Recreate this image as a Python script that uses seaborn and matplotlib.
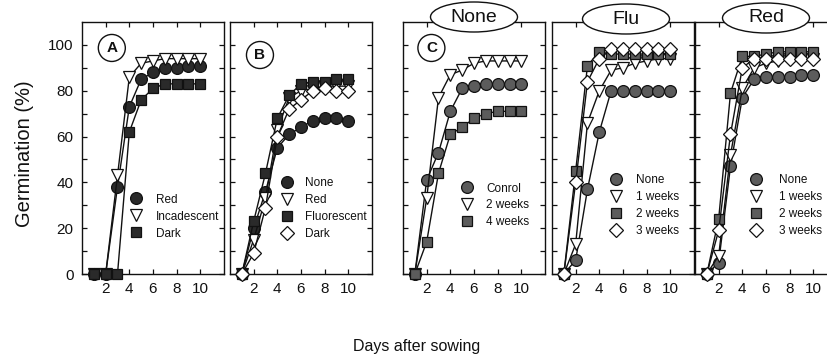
import matplotlib
matplotlib.use("Agg")
import matplotlib.pyplot as plt
from matplotlib.patches import Ellipse
from matplotlib.lines import Line2D
import seaborn as sns
import pandas as pd

sns.set_theme(style="white")
plt.rcParams['font.family'] = ['Liberation Sans', 'DejaVu Sans']

days = [1, 2, 3, 4, 5, 6, 7, 8, 9, 10]

# Panel A
a_labels = ["Red", "Incadescent", "Dark"]
a_red = [0, 0, 38, 73, 85, 88, 90, 90, 91, 91]
a_inc = [0, 0, 43, 86, 92, 93, 94, 94, 94, 94]
a_dark = [0, 0, 0, 62, 76, 81, 83, 83, 83, 83]

# Panel B
b_labels = ["None", "Red", "Fluorescent", "Dark"]
b_none = [0, 20, 36, 55, 61, 64, 67, 68, 68, 67]
b_red = [0, 15, 33, 63, 77, 80, 81, 82, 82, 82]
b_flu = [0, 23, 44, 68, 78, 83, 84, 84, 85, 85]
b_dark = [0, 9, 29, 60, 72, 76, 80, 81, 80, 80]

# Panel C (None)
c_labels = ["Conrol", "2 weeks", "4 weeks"]
c_ctrl = [0, 41, 53, 71, 81, 82, 83, 83, 83, 83]
c_w2 = [0, 33, 77, 87, 89, 92, 93, 93, 93, 93]
c_w4 = [0, 14, 44, 61, 64, 68, 70, 71, 71, 71]

# Flu panel
f_labels = ["None", "1 weeks", "2 weeks", "3 weeks"]
f_none = [0, 6, 37, 62, 80, 80, 80, 80, 80, 80]
f_w1 = [0, 13, 66, 80, 89, 90, 92, 93, 94, 94]
f_w2 = [0, 45, 91, 97, 96, 96, 96, 96, 96, 96]
f_w3 = [0, 40, 84, 94, 98, 98, 98, 98, 98, 98]

# Red panel
r_labels = ["None", "1 weeks", "2 weeks", "3 weeks"]
r_none = [0, 5, 47, 77, 85, 86, 86, 86, 87, 87]
r_w1 = [0, 8, 52, 81, 90, 92, 93, 94, 94, 94]
r_w2 = [0, 24, 79, 95, 95, 96, 97, 97, 97, 97]
r_w3 = [0, 19, 61, 90, 94, 94, 94, 94, 94, 94]

panel_titles = ["None", "Flu", "Red"]
panel_letters = ["A", "B", "C"]

BLACK = "#111111"
DARK = "#2a2a2a"
GRAY = "#5c5c5c"
WHITE = "white"

W, H = 828, 363
fig = plt.figure(figsize=(W / 100, H / 100), dpi=100)
fig.patch.set_facecolor("white")

ax_top, ax_bot = 22, 274
lefts = [82, 230, 403, 552, 695]
width = 142


def make_ax(left):
    ax = fig.add_axes([left / W, (H - ax_bot) / H, width / W, (ax_bot - ax_top) / H])
    ax.set_facecolor("white")
    ax.set_xlim(0, 12)
    ax.set_ylim(0, 110)
    ax.set_xticks([2, 4, 6, 8, 10])
    ax.set_yticks([0, 20, 40, 60, 80, 100])
    ax.set_yticks([10, 30, 50, 70, 90], minor=True)
    ax.tick_params(axis="both", which="both", direction="in", length=3.5, width=0.9,
                   top=True, right=True, bottom=True, left=True, colors=BLACK,
                   labelsize=11, pad=6)
    ax.tick_params(axis="y", labelleft=False)
    for s in ax.spines.values():
        s.set_color(BLACK)
        s.set_linewidth(1.0)
    ax.set_xlabel("")
    ax.set_ylabel("")
    return ax


def draw(ax, series, labels, styles, leg_x, leg_top, text_gap):
    handles = []
    for vals, lab, (mk, fc, ms) in zip(series, labels, styles):
        df = pd.DataFrame({"day": days, "val": vals})
        sns.lineplot(data=df, x="day", y="val", ax=ax, color=BLACK, lw=1.0,
                     marker=mk, markersize=ms, markerfacecolor=fc,
                     markeredgecolor=BLACK, markeredgewidth=0.9, legend=False,
                     clip_on=False, zorder=3)
        handles.append(Line2D([], [], linestyle="none", marker=mk, markersize=ms,
                              markerfacecolor=fc, markeredgecolor=BLACK,
                              markeredgewidth=0.9))
    ax.set_xlabel("")
    ax.set_ylabel("")
    leg = ax.legend(handles, labels, loc="upper left",
                    bbox_to_anchor=(leg_x, leg_top), borderaxespad=0, borderpad=0,
                    frameon=False, handlelength=1.0, handletextpad=text_gap,
                    labelspacing=0.42, fontsize=8.5)
    for t in leg.get_texts():
        t.set_color(BLACK)


circ = ("o", DARK, 8.5)
tri = ("v", WHITE, 9)
sq = ("s", DARK, 7.8)
dia = ("D", WHITE, 7.3)
gcirc = ("o", GRAY, 8.5)
gsq = ("s", GRAY, 7.8)

axA = make_ax(lefts[0])
axA.tick_params(axis="y", labelleft=True)
draw(axA, [a_red, a_inc, a_dark], a_labels, [circ, tri, sq], 0.34, 0.319, 1.2)

axB = make_ax(lefts[1])
draw(axB, [b_none, b_red, b_flu, b_dark], b_labels, [circ, tri, sq, dia], 0.36, 0.383, 1.0)

axC = make_ax(lefts[2])
draw(axC, [c_ctrl, c_w2, c_w4], c_labels, [gcirc, tri, gsq], 0.41, 0.363, 1.1)

axF = make_ax(lefts[3])
draw(axF, [f_none, f_w1, f_w2, f_w3], f_labels, [gcirc, tri, gsq, dia], 0.41, 0.397, 1.2)

axR = make_ax(lefts[4])
draw(axR, [r_none, r_w1, r_w2, r_w3], r_labels, [gcirc, tri, gsq, dia], 0.39, 0.397, 1.4)

# circled panel letters
for ax, letter, (cx, cy) in zip([axA, axB, axC], panel_letters,
                               [(0.21, 0.897), (0.211, 0.869), (0.2, 0.897)]):
    r = 13.5
    ax.add_patch(Ellipse((cx, cy), 2 * r / width, 2 * r / (ax_bot - ax_top),
                         transform=ax.transAxes, facecolor="white",
                         edgecolor=BLACK, lw=1.0, zorder=4))
    ax.text(cx, cy, letter, transform=ax.transAxes, ha="center", va="center",
            fontsize=11, fontweight="bold", color=BLACK, zorder=5)

# oval titles on top edge
for title, (cx, cy) in zip(panel_titles, [(474, 17), (626, 19), (766, 18)]):
    fig.add_artist(Ellipse((cx / W, (H - cy) / H), 87 / W, 30 / H,
                           transform=fig.transFigure, facecolor="white",
                           edgecolor=BLACK, lw=1.0, zorder=10))
    fig.text(cx / W, (H - cy) / H, title, ha="center", va="center",
             fontsize=14, color=BLACK, zorder=11)

fig.text(25 / W, (H - 154) / H, "Germination (%)", rotation=90,
         ha="center", va="center", fontsize=14.5, color=BLACK)
fig.text(417 / W, (H - 346) / H, "Days after sowing", ha="center",
         va="center", fontsize=11.5, color=BLACK)

fig.savefig("out.png", dpi=100, facecolor="white")
